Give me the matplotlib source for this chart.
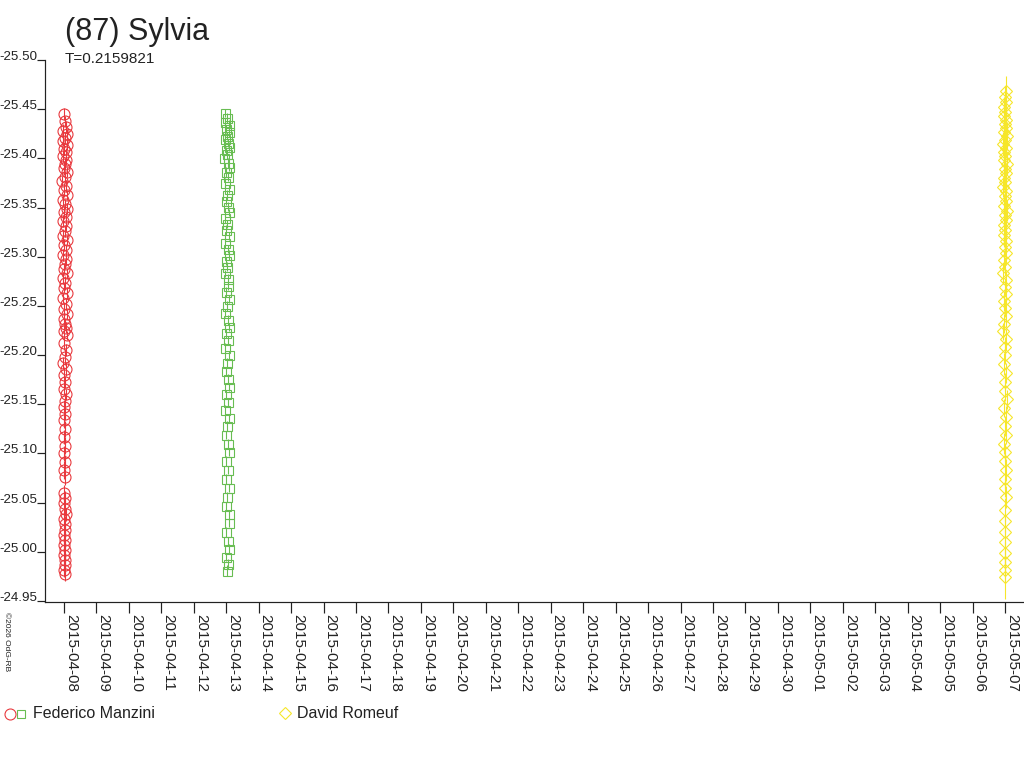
import matplotlib
matplotlib.use('Agg')
import matplotlib.pyplot as plt
from matplotlib.ticker import MultipleLocator, FormatStrFormatter
from datetime import date, timedelta

plt.rcParams['font.family'] = ['Liberation Sans', 'DejaVu Sans']

# ---------------- data (x = days since 2015-04-08 00:00, y = reduced magnitude) -------------
title = "(87) Sylvia"
period_text = "T=0.2159821"
start_date = date(2015, 4, 8)
n_days = 30

red_t = [0.00, 0.03, 0.06, -0.02, 0.08, 0.04, -0.04, 0.09, 0.00, 0.05, -0.03, 0.07, 0.02, -0.01,
         0.09, 0.04, -0.05, 0.06, 0.01, 0.08, -0.02, 0.03, 0.09, 0.00, 0.05, -0.04, 0.07, 0.02,
         -0.02, 0.08, 0.00, 0.05, -0.04, 0.07, 0.03, -0.01, 0.09, -0.03, 0.04, 0.01, 0.08, -0.03,
         0.06, 0.00, 0.09, -0.01, 0.04, 0.07, 0.01, 0.09,
         0.00, 0.05, 0.03, -0.02, 0.06, 0.01, 0.04, -0.01, 0.05, 0.02, 0.00, 0.04, 0.01,
         0.03, 0.01, 0.04, 0.01, 0.03, 0.00, 0.03,
         0.01, 0.04, 0.00, 0.03, 0.05, 0.01, 0.02, 0.04, 0.00, 0.03, 0.01, 0.04, 0.00, 0.02,
         0.04, 0.01, 0.03]
red_m = [-25.445, -25.438, -25.432, -25.428, -25.425, -25.421, -25.418, -25.414, -25.410, -25.406,
         -25.402, -25.398, -25.394, -25.390, -25.386, -25.381, -25.377, -25.372, -25.368, -25.363,
         -25.358, -25.354, -25.349, -25.345, -25.340, -25.336, -25.331, -25.326, -25.321, -25.317,
         -25.312, -25.307, -25.302, -25.298, -25.293, -25.288, -25.283, -25.278, -25.273, -25.268,
         -25.263, -25.258, -25.252, -25.247, -25.242, -25.237, -25.232, -25.228, -25.224, -25.220,
         -25.212, -25.205, -25.198, -25.192, -25.186, -25.180, -25.173, -25.166, -25.160, -25.153,
         -25.147, -25.140, -25.134,
         -25.125, -25.117, -25.108, -25.100, -25.091, -25.083, -25.076,
         -25.060, -25.055, -25.050, -25.044, -25.038, -25.033, -25.028, -25.022, -25.017, -25.012,
         -25.007, -25.002, -24.997, -24.992, -24.987, -24.982, -24.977]
red_e = [0.006, 0.005, 0.006, 0.007, 0.005, 0.006, 0.005, 0.006, 0.007, 0.005,
         0.006, 0.005, 0.006, 0.007, 0.005, 0.006, 0.005, 0.006, 0.007, 0.005,
         0.006, 0.005, 0.006, 0.007, 0.005, 0.006, 0.005, 0.006, 0.007, 0.005,
         0.006, 0.005, 0.006, 0.007, 0.005, 0.006, 0.005, 0.006, 0.007, 0.005,
         0.006, 0.005, 0.006, 0.007, 0.005, 0.006, 0.005, 0.006, 0.007, 0.005,
         0.007, 0.006, 0.008, 0.006, 0.007, 0.008, 0.006, 0.007, 0.006, 0.008,
         0.007, 0.006, 0.008,
         0.008, 0.007, 0.009, 0.008, 0.007, 0.009, 0.008,
         0.008, 0.007, 0.009, 0.008, 0.007, 0.009, 0.008, 0.007, 0.009, 0.008,
         0.007, 0.009, 0.008, 0.007, 0.009, 0.008, 0.007]

green_t = [4.97, 5.03, 4.95, 5.07, 4.99, 5.10, 5.01, 4.95, 5.05, 5.09, 4.98, 5.03, 4.94, 5.06,
           5.10, 5.00, 5.04, 4.96, 5.08, 5.02, 4.98, 5.06, 5.09, 4.96, 5.03, 5.00, 5.07, 4.97,
           5.05, 5.10, 4.99, 5.02, 4.95, 5.06, 5.04, 4.98, 5.08, 5.01, 4.97, 5.05, 5.09, 5.00,
           5.04, 4.97, 5.07, 5.02, 4.99, 5.06, 5.09, 5.00, 5.04, 4.97, 5.07, 5.03, 4.99, 5.06,
           5.10, 5.00, 5.05, 4.98, 5.08, 5.02, 4.99, 5.07, 5.09, 4.98, 5.04, 5.08, 5.00, 5.05,
           5.02]
green_m = [-25.446, -25.441, -25.437, -25.434, -25.430, -25.427, -25.423, -25.420, -25.416, -25.412,
           -25.408, -25.404, -25.400, -25.395, -25.391, -25.386, -25.381, -25.375, -25.369, -25.363,
           -25.357, -25.351, -25.345, -25.339, -25.333, -25.327, -25.321, -25.314, -25.308, -25.302,
           -25.296, -25.290, -25.283, -25.277, -25.270, -25.264, -25.257, -25.250, -25.243, -25.236,
           -25.229, -25.222, -25.215, -25.207, -25.200, -25.192, -25.184, -25.176, -25.168, -25.160,
           -25.152, -25.144, -25.136, -25.128, -25.119, -25.110, -25.101, -25.092, -25.083, -25.074,
           -25.065, -25.056, -25.047, -25.038, -25.029, -25.020, -25.011, -25.003, -24.995, -24.988,
           -24.981]
green_e = [0.004, 0.005, 0.004, 0.005, 0.004, 0.005, 0.004, 0.005, 0.004, 0.005,
           0.004, 0.005, 0.004, 0.005, 0.004, 0.005, 0.004, 0.005, 0.004, 0.005,
           0.004, 0.005, 0.004, 0.005, 0.004, 0.005, 0.004, 0.005, 0.004, 0.005,
           0.004, 0.005, 0.004, 0.005, 0.004, 0.005, 0.004, 0.005, 0.004, 0.005,
           0.004, 0.005, 0.004, 0.005, 0.004, 0.005, 0.004, 0.005, 0.004, 0.005,
           0.004, 0.005, 0.004, 0.005, 0.004, 0.005, 0.004, 0.005, 0.004, 0.005,
           0.004, 0.005, 0.004, 0.005, 0.004, 0.005, 0.004, 0.005, 0.004, 0.005,
           0.006]

yellow_t = [29.02, 29.00, 29.03, 28.98, 29.01, 28.96, 29.04, 28.99, 29.02, 28.97, 29.06, 29.00,
            28.95, 29.03, 28.98, 29.01, 28.96, 29.05, 28.99, 29.03, 28.97, 29.01, 28.95, 29.04,
            28.99, 29.02, 28.98, 29.05, 29.00, 29.03, 28.96, 29.01, 28.98, 29.04, 29.00, 29.02,
            28.97, 29.01, 28.95, 29.03, 28.99, 29.04, 28.97, 29.00, 29.02, 28.98, 28.95, 29.03,
            28.99, 29.01, 28.97, 29.04, 28.99, 29.01, 29.05, 28.98, 29.02, 29.00, 29.03, 28.98,
            29.01, 28.99, 29.03, 29.00, 28.99, 29.02,
            28.99, 29.01, 28.99, 29.01, 29.00, 29.01, 28.99, 29.00]
yellow_m = [-25.468, -25.462, -25.457, -25.452, -25.447, -25.443, -25.439, -25.435, -25.431, -25.427,
            -25.423, -25.419, -25.415, -25.411, -25.406, -25.402, -25.398, -25.394, -25.389, -25.385,
            -25.380, -25.376, -25.371, -25.367, -25.362, -25.357, -25.352, -25.347, -25.342, -25.337,
            -25.332, -25.327, -25.322, -25.316, -25.310, -25.304,
            -25.297, -25.290, -25.283, -25.276, -25.269, -25.262, -25.255, -25.248, -25.240, -25.232,
            -25.224, -25.216, -25.208, -25.200, -25.191, -25.182, -25.173, -25.164, -25.155, -25.146,
            -25.137, -25.128, -25.119, -25.110, -25.101, -25.092, -25.083, -25.074, -25.065, -25.056,
            -25.043, -25.031, -25.020, -25.010, -24.999, -24.990, -24.982, -24.974]
yellow_e = [0.016, 0.012, 0.014, 0.010, 0.013, 0.011, 0.015, 0.010, 0.012, 0.011, 0.014, 0.010,
            0.012, 0.011, 0.013, 0.010, 0.012, 0.011, 0.013, 0.010, 0.012, 0.011, 0.010, 0.012,
            0.011, 0.010, 0.012, 0.011, 0.010, 0.012, 0.011, 0.010, 0.012, 0.011, 0.010, 0.012,
            0.010, 0.009, 0.011, 0.010, 0.009, 0.011, 0.010, 0.009, 0.011, 0.010, 0.009, 0.011,
            0.010, 0.009, 0.011, 0.010, 0.009, 0.011, 0.010, 0.009, 0.011, 0.010, 0.009, 0.011,
            0.010, 0.009, 0.011, 0.010, 0.009, 0.011,
            0.012, 0.011, 0.013, 0.012, 0.011, 0.013, 0.012, 0.022]

observers = ["Federico Manzini", "David Romeuf"]
red_c = '#e8383d'
green_c = '#68bd52'
yellow_c = '#f6e62a'

# ---------------- figure ----------------
W, H = 1024, 768
PT = 72 / 100  # points per pixel at 100 dpi
fig = plt.figure(figsize=(W / 100, H / 100), dpi=100)
ax = fig.add_axes([45 / W, 1 - 602 / H, (W - 45) / W, (602 - 60) / H])

for t, m, e, c, mk, ms in [(red_t, red_m, red_e, red_c, 'o', 11 * PT),
                           (green_t, green_m, green_e, green_c, 's', 9 * PT),
                           (yellow_t, yellow_m, yellow_e, yellow_c, 'D', 8.5 * PT)]:
    ax.errorbar(t, m, yerr=e, fmt=mk, mfc='none', mec=c, mew=1.1 * PT, ms=ms,
                ecolor=c, elinewidth=1.1 * PT, capsize=0)

px_per_day = (1005 - 64) / 29
ax.set_xlim(-(64 - 45) / px_per_day, (1024 - 64) / px_per_day)
ax.set_ylim(-24.949, -25.50)

for s in ['top', 'right']:
    ax.spines[s].set_visible(False)
for s in ['left', 'bottom']:
    ax.spines[s].set_linewidth(1.2 * PT)
    ax.spines[s].set_color('#222222')

ax.yaxis.set_major_locator(MultipleLocator(0.05))
ax.yaxis.set_major_formatter(FormatStrFormatter('%.2f'))
ax.tick_params(axis='y', direction='out', length=8 * PT, width=1.2 * PT, pad=0, labelsize=9.6,
               colors='#222222')
for lab in ax.get_yticklabels():
    lab.set_verticalalignment('baseline')

ticks = list(range(n_days))
ax.set_xticks(ticks)
ax.set_xticklabels([(start_date + timedelta(days=d)).strftime('%Y-%m-%d') for d in ticks])
ax.tick_params(axis='x', direction='out', length=11 * PT, width=1.2 * PT, pad=1 * PT, labelsize=11,
               colors='#222222')
for lab in ax.get_xticklabels():
    lab.set_rotation(270)
    lab.set_horizontalalignment('left')
    lab.set_verticalalignment('top')

# titles
fig.text(65 / W, 1 - 40 / H, title, fontsize=22, va='baseline', ha='left', color='#222222')
fig.text(65 / W, 1 - 63 / H, period_text, fontsize=11, va='baseline', ha='left', color='#222222')
fig.text(3 / W, 1 - 612 / H, '©2026 OdG-RB', fontsize=6, rotation=270, ha='left', va='top',
         color='#222222')

# legend (overlay in pixel coordinates)
lg = fig.add_axes([0, 0, 1, 1], facecolor='none')
lg.set_xlim(0, W)
lg.set_ylim(H, 0)
lg.axis('off')
lg.plot([10], [714], 'o', mfc='none', mec=red_c, mew=1.1 * PT, ms=11 * PT)
lg.plot([21], [714], 's', mfc='none', mec=green_c, mew=1.1 * PT, ms=8 * PT)
lg.text(33, 713, observers[0], fontsize=11.5, va='center', ha='left', color='#222222')
lg.plot([285], [713], 'D', mfc='none', mec=yellow_c, mew=1.1 * PT, ms=8 * PT)
lg.text(297, 713, observers[1], fontsize=11.5, va='center', ha='left', color='#222222')

fig.savefig('out.png', dpi=100)
